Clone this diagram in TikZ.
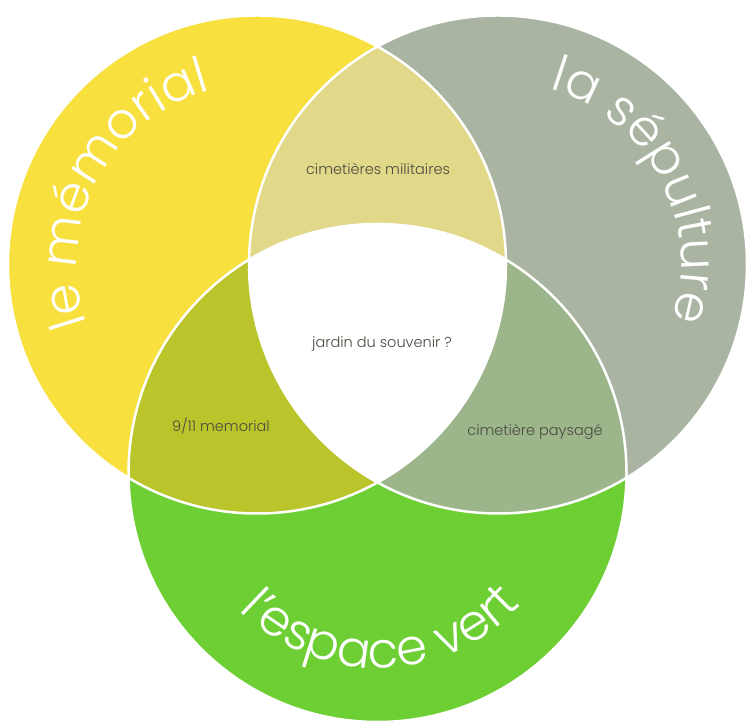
\documentclass[tikz,border=0pt]{standalone}
\usepackage{fontspec}
\setmainfont{Poppins}[UprightFont=* Light]
\usetikzlibrary{decorations.text}

\definecolor{colmem}{RGB}{248,224,62}
\definecolor{colsep}{RGB}{170,180,162}
\definecolor{colvert}{RGB}{109,207,51}
\definecolor{colmilit}{RGB}{226,216,137}
\definecolor{colneuf}{RGB}{186,196,43}
\definecolor{colpays}{RGB}{157,181,138}
\definecolor{coltext}{RGB}{74,74,64}

\newcommand{\bigfont}{\fontsize{50}{60}\selectfont\color{white}}

\begin{document}
\begin{tikzpicture}[x=1pt,y=1pt,
  inlabel/.style={text=coltext, font=\fontsize{14.5}{16}\selectfont, anchor=base, inner sep=0pt},
  border/.style={draw=white, line width=2.5pt}]
\useasboundingbox (0,0) rectangle (747,722);
\coordinate (mem) at (257,457.5);
\coordinate (sep) at (498,457.5);
\coordinate (vert) at (377.5,249);
% the three sets
\fill[colmem] (mem) circle[radius=249];
\fill[colsep] (sep) circle[radius=249];
\fill[colvert] (vert) circle[radius=249];
% overlaps
\begin{scope}
  \clip (mem) circle[radius=249];
  \fill[colmilit] (sep) circle[radius=249];
  \fill[colneuf] (vert) circle[radius=249];
\end{scope}
\begin{scope}
  \clip (sep) circle[radius=249];
  \fill[colpays] (vert) circle[radius=249];
\end{scope}
\begin{scope}
  \clip (mem) circle[radius=249];
  \clip (sep) circle[radius=249];
  \fill[white] (vert) circle[radius=249];
\end{scope}
\draw[border] (mem) circle[radius=249] (sep) circle[radius=249] (vert) circle[radius=249];
% curved titles
\path[decorate, decoration={text along path, text align=center, text={|\bigfont|le mémorial}}]
  (mem) ++(212:180) arc[start angle=212, end angle=92, radius=180];
\path[decorate, decoration={text along path, text align=center, text={|\bigfont|la sépulture}}]
  (sep) ++(88:183) arc[start angle=88, end angle=-32, radius=183];
\path[decorate, decoration={text along path, text align=center, text={|\bigfont|l'espace vert}}]
  (vert) ++(211:195) arc[start angle=211, end angle=331, radius=195];
% overlap labels
\node[inlabel] (militaires) at (378,547) {cimetières militaires};
\node[inlabel] (jardin) at (382,374) {jardin du souvenir ?};
\node[inlabel] (memorial) at (221,290) {9/11 memorial};
\node[inlabel] (paysage) at (535,286) {cimetière paysagé};
\end{tikzpicture}
\end{document}
